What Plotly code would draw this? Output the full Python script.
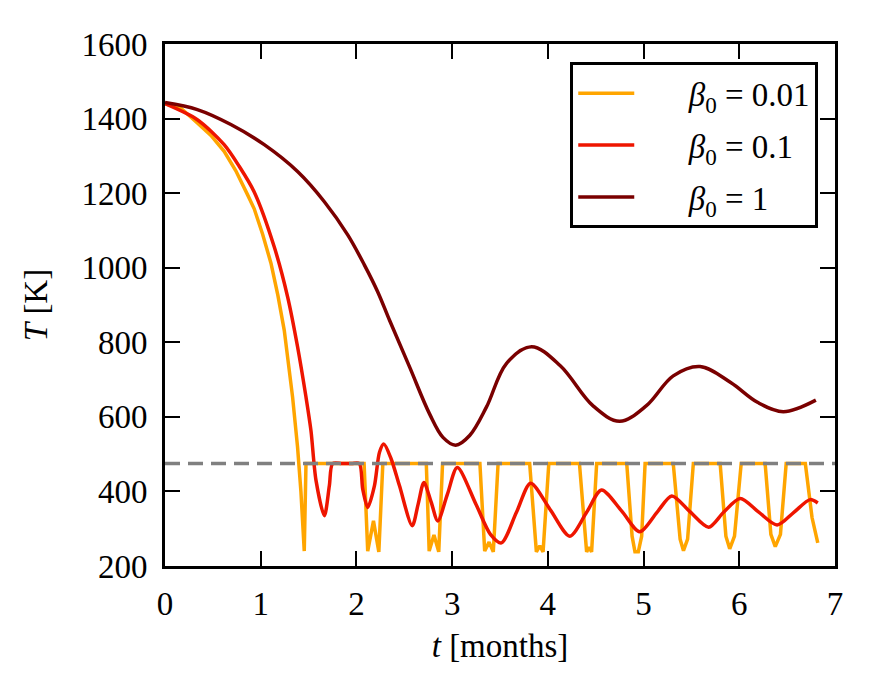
import plotly.graph_objects as go

# time in months, temperature in K
t_b1 = [0, 0.338, 0.688, 1.037, 1.385, 1.665, 1.909, 2.084, 2.223, 2.346, 2.555,
        2.764, 2.904, 3.037, 3.183, 3.358, 3.567, 3.83, 4.13, 4.47, 4.75, 5.03,
        5.31, 5.59, 5.91, 6.19, 6.46, 6.80]
T_b1 = [1443, 1424, 1384, 1330, 1258, 1177, 1088, 1007, 935, 859, 734,
        608, 545, 524, 550, 626, 743, 788, 737, 630, 588, 630,
        710, 735, 692, 639, 614, 645]

t_b01 = [0, 0.338, 0.618, 0.775, 0.932, 1.141, 1.281, 1.385, 1.473, 1.525, 1.578,
         1.665, 1.717, 1.752, 1.85, 1.95, 2.03, 2.066, 2.118, 2.188, 2.241,
         2.286, 2.363, 2.45, 2.583, 2.645, 2.705, 2.78, 2.85, 2.95, 3.054,
         3.25, 3.40, 3.515, 3.672, 3.82, 4.02, 4.23, 4.405, 4.56, 4.77, 4.96,
         5.14, 5.295, 5.487, 5.68, 5.836, 6.01, 6.2, 6.395, 6.57, 6.74, 6.82]
T_b01 = [1440, 1397, 1330, 1272, 1203, 1056, 922, 788, 653, 563, 429,
         335, 415, 475, 475, 475, 475, 406, 357, 415, 505,
         527, 487, 415, 308, 366, 424, 372, 321, 392, 464,
         365, 285, 262, 344, 422, 353, 280, 344, 404, 348, 292,
         344, 388, 345, 304, 344, 381, 345, 310, 344, 378, 369]

t_b001 = [0, 0.17, 0.338, 0.48, 0.618, 0.74, 0.862, 0.932, 1.02, 1.107, 1.18,
          1.246, 1.333, 1.385, 1.42, 1.455, 1.473,
          2.08, 2.118, 2.178, 2.234, 2.276,
          2.73, 2.76, 2.81, 2.86, 2.90,
          3.29, 3.34, 3.386, 3.43, 3.48,
          3.81, 3.88, 3.916, 3.95, 4.01,
          4.33, 4.405, 4.43, 4.457, 4.51,
          4.824, 4.88, 4.91, 4.945, 4.98, 5.016,
          5.31, 5.382, 5.417, 5.46, 5.52,
          5.80, 5.86, 5.90, 5.95, 6.02,
          6.27, 6.33, 6.376, 6.43, 6.49,
          6.69, 6.76, 6.82]
T_b001 = [1440, 1427, 1388, 1355, 1312, 1260, 1196, 1158, 1090, 1012, 925,
          832, 653, 519, 400, 240, 475,
          475, 240, 321, 238, 475,
          475, 240, 283, 238, 475,
          475, 240, 264, 238, 475,
          475, 238, 254, 238, 475,
          475, 238, 250, 238, 475,
          475, 280, 238, 238, 280, 475,
          475, 272, 241, 272, 475,
          475, 280, 246, 280, 475,
          475, 285, 252, 285, 475,
          475, 330, 262]

T_crit = 475
t_crit = [0, 7]

pad = "&nbsp;" * 6
legend_names = [pad + "<i>β</i><sub>0</sub> = 0.01", pad + "<i>β</i><sub>0</sub> = 0.1",
                pad + "<i>β</i><sub>0</sub> = 1"]
colors = ["#ffa500", "#ee1500", "#7a0000"]

serif = "Liberation Serif"

fig = go.Figure()
fig.add_trace(go.Scatter(x=t_b001, y=T_b001, mode="lines", name=legend_names[0],
                         legendgroup="a", line=dict(color=colors[0], width=3.5)))
fig.add_trace(go.Scatter(x=t_b01, y=T_b01, mode="lines", name=legend_names[1],
                         legendgroup="b",
                         line=dict(color=colors[1], width=3.5, shape="spline", smoothing=0.8)))
fig.add_trace(go.Scatter(x=t_b1, y=T_b1, mode="lines", name=legend_names[2],
                         legendgroup="c",
                         line=dict(color=colors[2], width=3.5, shape="spline", smoothing=1)))
fig.add_trace(go.Scatter(x=t_crit, y=[T_crit] * len(t_crit), mode="lines",
                         showlegend=False, hoverinfo="skip",
                         line=dict(color="gray", width=3.5, dash="15px,8px")))

axis_style = dict(showgrid=False, zeroline=False, showline=True, linewidth=3,
                  linecolor="black", mirror="allticks", ticks="inside",
                  ticklen=15, tickwidth=1.5, tickcolor="black",
                  tickfont=dict(family=serif, size=33, color="black"))

fig.update_xaxes(range=[0, 7], dtick=1, ticklabelstandoff=6,
                 title=dict(text="<i>t</i> [months]", standoff=14,
                            font=dict(family=serif, size=33, color="black")),
                 **axis_style)
fig.update_yaxes(range=[200, 1600], dtick=200, ticklabelstandoff=8,
                 title=dict(text="<i>T</i> [K]", standoff=24,
                            font=dict(family=serif, size=33, color="black")),
                 **axis_style)

# page body has an 8px margin, so the figure is drawn 8px smaller on each side
fig.update_layout(
    width=856, height=680,
    margin=dict(l=157, r=29, t=36, b=122),
    plot_bgcolor="white", paper_bgcolor="white",
    legend=dict(x=0.975, xanchor="right", y=0.965, yanchor="top",
                bgcolor="white", bordercolor="black", borderwidth=3,
                font=dict(family=serif, size=33, color="black"),
                tracegroupgap=6, itemwidth=56),
)

fig.write_html("out.html")
